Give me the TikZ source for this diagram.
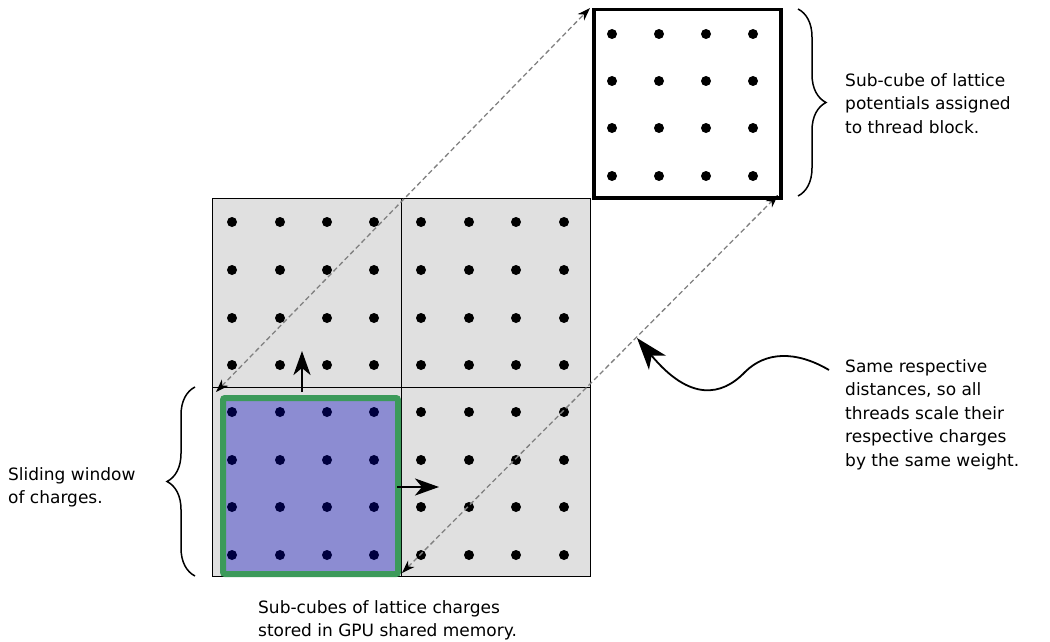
\documentclass[tikz,border=0pt]{standalone}
\usepackage{fontspec}
\setmainfont{DejaVu Sans}
\usetikzlibrary{decorations.pathreplacing,arrows.meta}
\definecolor{gridgray}{HTML}{E0E0E0}
\definecolor{winblue}{HTML}{8C8CD2}
\definecolor{wingreen}{HTML}{3C9A5A}
\definecolor{navy}{HTML}{00003F}
\definecolor{dashgray}{HTML}{808080}
\tikzset{
  dot/.style={circle,fill=black,inner sep=0pt,minimum size=10pt},
  ndot/.style={circle,fill=navy,inner sep=0pt,minimum size=10pt},
  lbl/.style={align=left,anchor=north west,inner sep=0pt,font=\fontsize{17}{23.5}\selectfont},
  dasharrow/.style={draw=dashgray,dash pattern=on 5pt off 3pt,line width=1.3pt,arrows={Stealth[length=13pt,width=9pt,inset=4pt,black]-Stealth[length=13pt,width=9pt,inset=4pt,black]}},
  movearrow/.style={draw=black,line width=2.8pt,arrows={-Stealth[length=24pt,width=17pt,inset=7pt]}},
  bracestyle/.style={draw=black,line width=1.5pt,decorate,decoration={brace,amplitude=28pt,aspect=0.5}}
}
\begin{document}
\begin{tikzpicture}[x=1pt,y=-1pt]
\useasboundingbox (0,0) rectangle (1050,642);
% big grid
\node[draw=black,line width=1.2pt,fill=gridgray,minimum width=378pt,minimum height=378pt,inner sep=0pt,anchor=north west] (grid) at (212,198) {};
\draw[line width=1pt] (401,198) -- (401,576);
\draw[line width=1pt] (212,387) -- (590,387);
% window
\node[draw=wingreen,line width=6pt,rounded corners=2pt,fill=winblue,minimum width=175pt,minimum height=176pt,inner sep=0pt,anchor=north west] (win) at (220,395) {};
% dots
\foreach \x in {232,280,327,374,421,469,516,564}{
  \foreach \y in {222,270,318,365}{\node[dot] at (\x,\y) {};}
}
\foreach \x in {421,469,516,564}{
  \foreach \y in {412,460,507,555}{\node[dot] at (\x,\y) {};}
}
\foreach \x in {232,280,327,374}{
  \foreach \y in {412,460,507,555}{\node[ndot] at (\x,\y) {};}
}
% top box
\node[draw=black,line width=3.5pt,fill=white,minimum width=187pt,minimum height=188pt,inner sep=0pt,anchor=north west] (top) at (592,8) {};
\foreach \x in {612,659,706,753}{
  \foreach \y in {34,81,128,176}{\node[dot] at (\x,\y) {};}
}
% moving arrows
\coordinate (upend) at (302,351);
\coordinate (rtend) at (439,487);
\draw[movearrow] (302,392) -- (upend);
\draw[movearrow] (397,487) -- (rtend);
% dashed correspondence arrows
\coordinate (a1) at (590,8);
\coordinate (a2) at (216,392);
\coordinate (b1) at (778,195);
\coordinate (b2) at (402,573);
\draw[dasharrow] (a2) -- (a1);
\draw[dasharrow] (b2) -- (b1);
% braces
\draw[bracestyle] (798,9) -- (798,196);
\draw[bracestyle] (195,576) -- (195,387);
% labels
\node[lbl] (t1) at (845,73) {Sub-cube of lattice\\potentials assigned\\to thread block.};
\node[lbl] (t2) at (845,359) {Same respective\\distances, so all\\threads scale their\\respective charges\\by the same weight.};
\node[lbl] (t3) at (8,467) {Sliding window\\of charges.};
\node[lbl] (t4) at (258,600) {Sub-cubes of lattice charges\\stored in GPU shared memory.};
% curved arrow
\coordinate (cs) at (829,370);
\coordinate (ce) at (637,338);
\draw[line width=1.8pt,arrows={-Stealth[length=32pt,width=22pt,inset=9pt]}] (cs) .. controls (795,350) and (765,352) .. (745,372) .. controls (722,396) and (690,402) .. (ce);
\end{tikzpicture}
\end{document}
